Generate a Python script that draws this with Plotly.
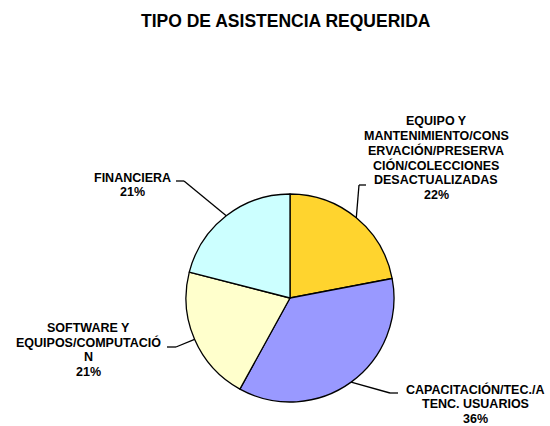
import math
import plotly.graph_objects as go

# ---- data ----
categories = [
    "EQUIPO Y<br>MANTENIMIENTO/CONS<br>ERVACIÓN/PRESERVA<br>CIÓN/COLECCIONES<br>DESACTUALIZADAS",
    "CAPACITACIÓN/TEC./A<br>TENC. USUARIOS",
    "SOFTWARE Y<br>EQUIPOS/COMPUTACIÓ<br>N",
    "FINANCIERA",
]
values = [22, 36, 21, 21]
title_text = "TIPO DE ASISTENCIA REQUERIDA"

# ---- styling / layout ----
colors = ["#FFD42E", "#9999FF", "#FFFFCC", "#CCFFFF"]
W, H = 550, 426
cx, cy, r = 290, 298, 104           # pie centre / radius in pixels
label_pos = [(436, 158), (475, 404), (88, 350), (132, 185)]   # label block centres (px)
elbows = [((359, 185), (366, 185)), ((390, 393), (398, 393)),
          ((176, 347), (167, 347)), ((184, 181), (176, 181))]
LINE_H = 14.6
FONT = "Liberation Sans, Arial, sans-serif"

def px(x):
    return x / W

def py(y):
    return 1 - y / H

fig = go.Figure(go.Pie(
    labels=[c.replace("<br>", "") for c in categories],
    values=values,
    sort=False,
    direction="clockwise",
    rotation=0,
    textinfo="none",
    hoverinfo="label+percent",
    marker=dict(colors=colors, line=dict(color="black", width=1.3)),
    domain=dict(x=[px(cx - r), px(cx + r)], y=[py(cy + r), py(cy - r)]),
    showlegend=False,
))

total = sum(values)
shapes = []
annotations = []
cum = 0
for i, v in enumerate(values):
    mid = (cum + v / 2) / total * 2 * math.pi
    cum += v
    ex = cx + r * math.sin(mid)
    ey = cy - r * math.cos(mid)
    (bx, by), (tx, ty) = elbows[i]
    for (x0, y0, x1, y1) in [(ex, ey, bx, by), (bx, by, tx, ty)]:
        shapes.append(dict(type="line", xref="paper", yref="paper",
                           x0=px(x0), y0=py(y0), x1=px(x1), y1=py(y1),
                           line=dict(color="black", width=1.3)))
    pct = round(v / total * 100)
    lines = categories[i].split("<br>") + [f"{pct}%"]
    lx, ly = label_pos[i]
    n = len(lines)
    for j, t in enumerate(lines):
        yy = ly + (j - (n - 1) / 2) * LINE_H
        annotations.append(dict(
            text=f"<b>{t}</b>",
            x=px(lx), y=py(yy), xref="paper", yref="paper",
            xanchor="center", yanchor="middle", showarrow=False,
            font=dict(family=FONT, size=12.5, color="black"),
        ))

annotations.append(dict(
    text=f"<b>{title_text}</b>", x=px(286), y=py(21), xref="paper", yref="paper",
    xanchor="center", yanchor="middle", showarrow=False,
    font=dict(family=FONT, size=17.5, color="black"),
))

fig.update_layout(
    width=W, height=H, autosize=False,
    margin=dict(l=0, r=0, t=0, b=0),
    paper_bgcolor="white", plot_bgcolor="white",
    shapes=shapes, annotations=annotations,
)

fig.write_html("out.html", config={"displayModeBar": False},
               post_script="document.body.style.margin='0';")
